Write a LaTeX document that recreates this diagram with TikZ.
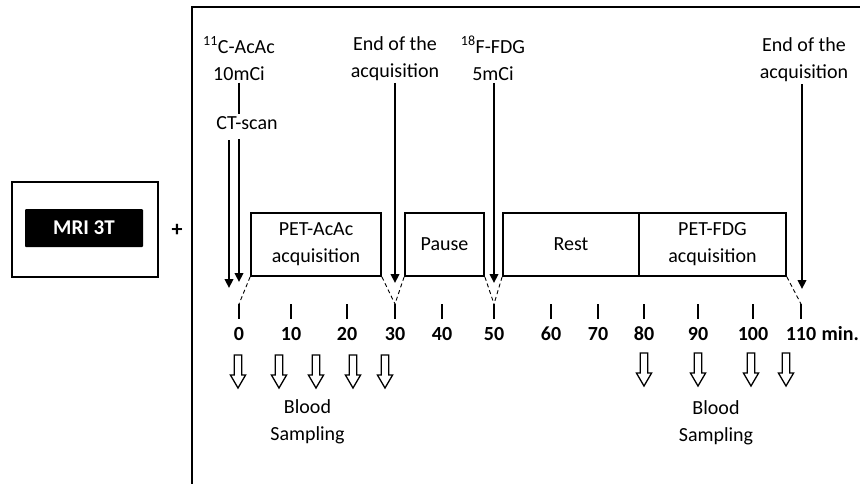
\documentclass[tikz,border=0pt]{standalone}
\usepackage{fontspec}
\setmainfont{Carlito}
\usetikzlibrary{arrows.meta,positioning}

\tikzset{
  bloodarrow/.pic={
    \draw[line width=1.3pt, line join=miter, fill=white]
      (-3.8,0) -- (3.8,0) -- (3.8,20) -- (7.6,20) -- (0,33) -- (-7.6,20) -- (-3.8,20) -- cycle;
  }
}

\begin{document}
\begin{tikzpicture}[
  x=1pt, y=-1pt,
  font=\fontsize{20}{27}\selectfont,
  frame/.style={line width=1.8pt},
  phase/.style={draw, line width=1.8pt, minimum height=63pt, inner sep=2pt, align=center},
  tick/.style={line width=2.6pt},
  tlab/.style={font=\fontsize{20}{24}\selectfont\bfseries, inner sep=1pt},
  evt/.style={-{Triangle[length=9pt,width=8.5pt]}, line width=2.6pt},
  lab/.style={align=center, inner sep=2pt},
  guide/.style={dashed, line width=0.9pt, dash pattern=on 4pt off 3pt},
]
  \useasboundingbox (0,0) rectangle (860,483);

  % outer frame of the session
  \draw[frame] (192,490) -- (192,7) -- (870,7);

  % MRI part
  \node[draw, line width=1.8pt, minimum width=146pt, minimum height=95pt] (mri) at (85,229.5) {};
  \node[fill=black, text=white, rounded corners=1pt, font=\fontsize{21}{24}\selectfont\bfseries,
        minimum width=118pt, minimum height=38pt] (mrilabel) at (84,228) {MRI 3T};
  \node[font=\fontsize{22}{24}\selectfont\bfseries] (plus) at (177,230) {+};

  % protocol phases
  \node[phase, minimum width=130pt] (petacac) at (316,244.5) {PET-AcAc\\acquisition};
  \node[phase, minimum width=79pt]  (pause) at (444.5,244.5) {Pause};
  \node[phase, minimum width=136pt] (rest) at (571,244.5) {Rest};
  \node[phase, minimum width=147pt] (petfdg) at (712.5,244.5) {PET-FDG\\acquisition};

  % time axis
  \foreach \m/\x in {0/239,10/291,20/347,30/395,40/442,50/494,60/551,70/598,80/644,90/698,100/753,110/801} {
    \coordinate (t\m) at (\x,304);
    \draw[tick] (t\m) -- ++(0,15);
    \node[tlab] (n\m) at (\x,334) {\m};
  }
  \node[tlab, anchor=west] (unit) at ([xshift=3pt]n110.east) {min.};

  \draw[guide] (petacac.south west) -- (t0);
  \draw[guide] (petacac.south east) -- (t30);
  \draw[guide] (pause.south west) -- (t30);
  \draw[guide] (pause.south east) -- (t50);
  \draw[guide] (rest.south west) -- (t50);
  \draw[guide] (petfdg.south east) -- (t110);

  % events
  \node[lab] (acac) at (239,58.5) {\textsuperscript{11}C-AcAc\\10mCi};
  \node[lab] (ct) at (247,123) {CT-scan};
  \node[lab] (end1) at (395,58.5) {End of the\\acquisition};
  \node[lab] (fdg) at (493,58.5) {\textsuperscript{18}F-FDG\\5mCi};
  \node[lab] (end2) at (804,60) {End of the\\acquisition};

  \coordinate (ctin1) at (229,140);
  \coordinate (ctin2) at (239,139);
  \coordinate (ctout1) at (229,288);
  \coordinate (ctout2) at (239,282);
  \coordinate (tip30) at (395,283);
  \coordinate (tip50) at (494,283);
  \coordinate (tip110) at (802,289);

  \draw[line width=2.6pt] (acac.south -| ctin2) -- (ct.north -| ctin2);
  \draw[evt] (ctin1) -- (ctout1);
  \draw[evt] (ctin2) -- (ctout2);
  \draw[evt] (end1.south) -- (tip30);
  \draw[evt] (fdg.south -| tip50) -- (tip50);
  \draw[evt] (end2.south -| tip110) -- (tip110);

  % blood sampling
  \foreach \x [count=\i] in {238,279,316,353,385} {
    \pic (bsa\i) at (\x,355) {bloodarrow};
  }
  \foreach \x [count=\i] in {644,698,751,786} {
    \pic (bsb\i) at (\x,353) {bloodarrow};
  }
  \node[lab] (blood1) at (307.5,422) {Blood\\Sampling};
  \node[lab] (blood2) at (716,423) {Blood\\Sampling};
\end{tikzpicture}
\end{document}
